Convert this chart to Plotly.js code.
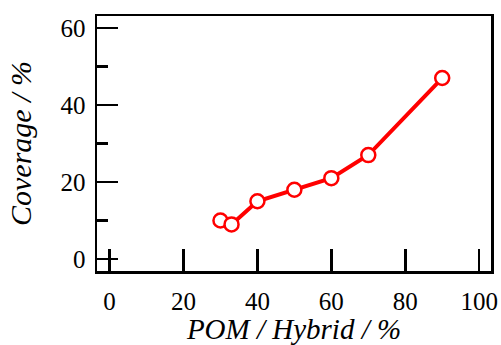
<!DOCTYPE html>
<html>
<head>
<meta charset="utf-8">
<script src="https://cdn.plot.ly/plotly-3.0.1.min.js"></script>
<style>html,body{margin:0;padding:0;background:#fff;}#chart{width:501px;height:345px;}</style>
</head>
<body>
<div id="chart"></div>
<script>
const pomHybrid = [30, 33, 40, 50, 60, 70, 90];
const coverage = [10, 9, 15, 18, 21, 27, 47];
const xTicks = [0, 20, 40, 60, 80, 100];
const yTicks = [0, 20, 40, 60];

const fontFam = '"Liberation Serif", "Times New Roman", serif';

const trace = {
  x: pomHybrid,
  y: coverage,
  type: 'scatter',
  mode: 'lines+markers',
  line: {color: '#ff0000', width: 4},
  marker: {symbol: 'circle', size: 14, color: '#ffffff', line: {color: '#ff0000', width: 2.5}},
  hoverinfo: 'skip',
  cliponaxis: false
};

const layout = {
  width: 501, height: 345,
  margin: {l: 97, r: 10, t: 16, b: 74},
  paper_bgcolor: '#ffffff',
  plot_bgcolor: '#ffffff',
  showlegend: false,
  font: {family: fontFam, color: '#000'},
  xaxis: {
    range: [-3.4, 103.2],
    automargin: false,
    tickvals: xTicks,
    ticktext: xTicks.map(String),
    ticks: 'inside', ticklen: 22, tickwidth: 2.5, tickcolor: '#000',
    showline: true, linewidth: 2.5, linecolor: '#000', mirror: true,
    showgrid: false, zeroline: false,
    tickfont: {size: 25, family: fontFam},
    ticklabelstandoff: 6,
    title: {text: '<i>POM / Hybrid / %</i>', font: {size: 29, family: fontFam}, standoff: 26}
  },
  yaxis: {
    range: [-3.1, 63.1],
    automargin: false,
    tickvals: yTicks,
    ticktext: yTicks.map(String),
    ticks: 'inside', ticklen: 21, tickwidth: 2.5, tickcolor: '#000',
    minor: {ticks: 'inside', ticklen: 11, tickwidth: 2.5, tickcolor: '#000', tickvals: [10, 30, 50], showgrid: false},
    showline: true, linewidth: 2.5, linecolor: '#000', mirror: true,
    showgrid: false, zeroline: false,
    tickfont: {size: 25, family: fontFam},
    ticklabelstandoff: 4,
    title: {text: '<i>Coverage / %</i>', font: {size: 30, family: fontFam}, standoff: 20}
  }
};

Plotly.newPlot('chart', [trace], layout, {staticPlot: true, displayModeBar: false});
</script>
</body>
</html>
